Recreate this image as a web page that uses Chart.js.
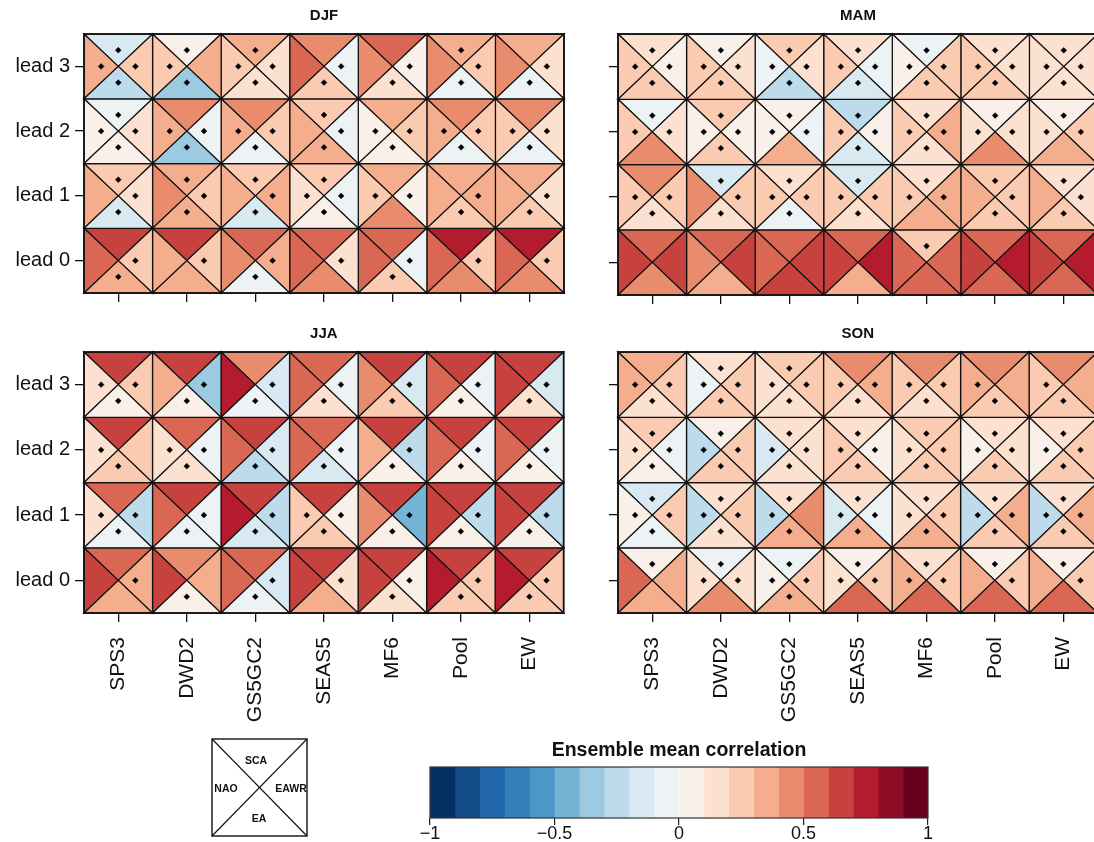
<!DOCTYPE html>
<html>
<head>
<meta charset="utf-8">
<script src="https://cdn.jsdelivr.net/npm/chart.js@4.4.1/dist/chart.umd.min.js"></script>
<style>
  html, body { margin: 0; padding: 0; background: #fff; width: 1094px; height: 842px; overflow: hidden; position: relative; }
  canvas { position: absolute; }
  #key { position: absolute; left: 0; top: 0; }
</style>
</head>
<body>
<canvas id="djf" width="570" height="310" style="left:0px;top:0px"></canvas>
<canvas id="mam" width="570" height="310" style="left:534px;top:0px"></canvas>
<canvas id="jja" width="570" height="420" style="left:0px;top:318px"></canvas>
<canvas id="son" width="570" height="420" style="left:534px;top:318px"></canvas>
<canvas id="cbar" width="598" height="112" style="left:380px;top:730px"></canvas>
<svg id="key" width="1094" height="842" font-family="'Liberation Sans', Arial, Helvetica, sans-serif">
  <rect x="212" y="739" width="95" height="97" fill="none" stroke="#111" stroke-width="1.4"/>
  <line x1="212" y1="739" x2="307" y2="836" stroke="#111" stroke-width="1.2"/>
  <line x1="307" y1="739" x2="212" y2="836" stroke="#111" stroke-width="1.2"/>
  <text x="256" y="764" font-size="10.5" font-weight="bold" text-anchor="middle" fill="#111">SCA</text>
  <text x="226" y="792" font-size="10.5" font-weight="bold" text-anchor="middle" fill="#111">NAO</text>
  <text x="291" y="792" font-size="10.5" font-weight="bold" text-anchor="middle" fill="#111">EAWR</text>
  <text x="259" y="822" font-size="10.5" font-weight="bold" text-anchor="middle" fill="#111">EA</text>
</svg>
<script>
// ---- axis categories and labels ----
const models = ['SPS3', 'DWD2', 'GS5GC2', 'SEAS5', 'MF6', 'Pool', 'EW'];
const leads = ['lead 0', 'lead 1', 'lead 2', 'lead 3'];
const indices = ['SCA', 'NAO', 'EAWR', 'EA'];   // top, left, right, bottom triangle
const colorTicks = [-1, -0.5, 0, 0.5, 1];
const levels = [-1, -0.9, -0.8, -0.7, -0.6, -0.5, -0.4, -0.3, -0.2, -0.1, 0,
                0.1, 0.2, 0.3, 0.4, 0.5, 0.6, 0.7, 0.8, 0.9, 1];
const rdbuAnchors = ['#053061', '#2166ac', '#4393c3', '#92c5de', '#d1e5f0', '#f7f7f7',
                     '#fddbc7', '#f4a582', '#d6604d', '#b2182b', '#67001f'];

// ---- ensemble mean correlations; rows = lead 0..3, columns = models ----
const DJF_SCA = [
  [0.65, 0.65, 0.55, 0.55, 0.55, 0.75, 0.75],
  [0.25, 0.35, 0.25, 0.25, 0.35, 0.35, 0.35],
  [-0.05, 0.45, 0.45, 0.25, 0.35, 0.45, 0.45],
  [-0.15, 0.05, 0.35, 0.45, 0.55, 0.35, 0.35]];
const DJF_NAO = [
  [0.55, 0.35, 0.45, 0.55, 0.55, 0.55, 0.55],
  [0.35, 0.45, 0.35, 0.15, 0.25, 0.35, 0.35],
  [0.05, 0.35, 0.35, 0.35, 0.05, 0.35, 0.25],
  [0.35, 0.25, 0.25, 0.55, 0.45, 0.45, 0.45]];
const DJF_EAWR = [
  [0.25, 0.25, 0.35, 0.15, -0.05, 0.25, 0.25],
  [0.15, 0.25, 0.35, -0.05, 0.05, 0.35, 0.15],
  [0.15, -0.05, 0.25, -0.05, 0.25, 0.25, 0.15],
  [0.25, 0.35, 0.15, -0.05, 0.05, 0.25, 0.15]];
const DJF_EA = [
  [0.35, 0.35, -0.05, 0.45, 0.25, 0.45, 0.45],
  [-0.15, 0.35, -0.15, 0.05, 0.45, 0.25, 0.25],
  [0.05, -0.35, -0.05, 0.35, 0.05, -0.05, -0.05],
  [-0.25, -0.35, 0.15, 0.25, 0.15, -0.05, -0.05]];

const MAM_SCA = [
  [0.55, 0.55, 0.55, 0.55, 0.25, 0.55, 0.55],
  [0.45, -0.15, 0.15, -0.15, 0.15, 0.25, 0.15],
  [-0.05, 0.25, 0.05, -0.25, 0.15, 0.05, 0.05],
  [0.15, 0.05, 0.25, 0.15, -0.05, 0.15, 0.15]];
const MAM_NAO = [
  [0.65, 0.45, 0.55, 0.65, 0.55, 0.65, 0.65],
  [0.25, 0.45, 0.25, 0.25, 0.25, 0.35, 0.35],
  [0.25, 0.05, 0.05, 0.25, 0.25, 0.15, 0.15],
  [0.25, 0.25, -0.05, 0.25, 0.05, 0.25, 0.15]];
const MAM_EAWR = [
  [0.65, 0.65, 0.65, 0.75, 0.55, 0.75, 0.75],
  [0.25, 0.25, 0.25, 0.25, 0.35, 0.25, 0.15],
  [0.15, 0.05, -0.05, 0.05, 0.35, 0.15, 0.25],
  [0.05, 0.15, 0.15, -0.05, 0.25, 0.15, 0.15]];
const MAM_EA = [
  [0.45, 0.35, 0.65, 0.35, 0.55, 0.55, 0.55],
  [0.15, 0.15, -0.05, 0.15, 0.35, 0.25, 0.25],
  [0.45, 0.25, 0.35, -0.15, 0.15, 0.45, 0.35],
  [0.25, 0.25, -0.25, -0.15, 0.25, 0.25, 0.15]];

const JJA_SCA = [
  [0.55, 0.45, 0.55, 0.65, 0.65, 0.65, 0.65],
  [0.55, 0.65, 0.65, 0.65, 0.65, 0.65, 0.65],
  [0.65, 0.55, 0.65, 0.55, 0.65, 0.65, 0.65],
  [0.65, 0.65, 0.45, 0.55, 0.65, 0.65, 0.65]];
const JJA_NAO = [
  [0.65, 0.65, 0.55, 0.65, 0.65, 0.75, 0.75],
  [0.15, 0.55, 0.75, 0.25, 0.45, 0.65, 0.65],
  [0.15, 0.15, 0.55, 0.55, 0.35, 0.55, 0.55],
  [0.15, 0.35, 0.75, 0.55, 0.45, 0.55, 0.65]];
const JJA_EAWR = [
  [0.35, 0.35, -0.15, 0.15, 0.05, 0.25, 0.25],
  [-0.25, -0.05, -0.25, 0.05, -0.45, -0.25, -0.25],
  [0.25, -0.05, -0.15, -0.05, -0.25, -0.05, -0.05],
  [0.25, -0.35, -0.15, -0.05, -0.15, -0.05, -0.15]];
const JJA_EA = [
  [0.35, 0.05, -0.05, 0.35, 0.15, 0.25, 0.25],
  [-0.05, -0.05, -0.15, 0.25, 0.05, 0.05, 0.05],
  [0.25, 0.15, -0.25, -0.15, 0.05, 0.05, 0.05],
  [0.05, 0.05, -0.05, 0.15, 0.25, 0.05, 0.15]];

const SON_SCA = [
  [0.05, -0.05, -0.05, 0.05, 0.15, 0.05, 0.05],
  [-0.15, 0.15, 0.15, 0.15, 0.15, 0.15, 0.15],
  [0.25, 0.05, 0.15, 0.15, 0.25, 0.15, 0.15],
  [0.35, 0.15, 0.25, 0.45, 0.45, 0.45, 0.45]];
const SON_NAO = [
  [0.55, 0.15, 0.05, 0.15, 0.35, 0.35, 0.35],
  [0.05, -0.25, -0.25, -0.15, 0.15, -0.25, -0.25],
  [0.15, -0.25, -0.15, 0.25, 0.15, 0.05, 0.05],
  [0.35, -0.05, 0.15, 0.25, 0.25, 0.35, 0.25]];
const SON_EAWR = [
  [0.35, 0.15, 0.25, 0.25, 0.25, 0.25, 0.25],
  [0.25, 0.25, 0.45, -0.05, 0.25, 0.35, 0.35],
  [-0.05, 0.25, 0.15, 0.05, 0.25, 0.15, 0.25],
  [0.25, 0.25, 0.25, 0.35, 0.25, 0.35, 0.35]];
const SON_EA = [
  [0.35, 0.45, 0.35, 0.55, 0.55, 0.55, 0.55],
  [-0.05, 0.15, 0.35, 0.35, 0.35, 0.25, 0.25],
  [0.05, 0.25, 0.15, 0.25, 0.25, 0.25, 0.25],
  [0.15, 0.25, 0.15, 0.15, 0.15, 0.25, 0.25]];

// ---- significance flags (1 = significant, drawn as a dot) ----
const DJF_SCA_SIG = [[0,0,0,0,0,0,0],[1,1,1,1,0,0,0],[1,0,0,1,0,0,0],[1,1,1,0,0,1,0]];
const DJF_NAO_SIG = [[0,0,0,0,0,0,0],[0,0,0,1,1,0,0],[1,1,1,0,1,1,1],[1,1,1,0,0,0,0]];
const DJF_EAWR_SIG = [[1,1,1,1,1,1,1],[1,1,1,1,1,1,1],[1,1,1,1,1,1,1],[1,0,1,1,1,1,1]];
const DJF_EA_SIG = [[1,0,1,0,1,0,0],[1,1,1,1,0,1,1],[1,1,1,1,1,1,1],[1,1,1,1,1,1,1]];

const MAM_SCA_SIG = [[0,0,0,0,1,0,0],[0,1,1,1,1,1,1],[1,1,1,1,1,1,1],[1,1,1,1,1,1,1]];
const MAM_NAO_SIG = [[0,0,0,0,0,0,0],[1,0,1,1,1,0,0],[1,1,1,1,1,1,1],[1,1,1,1,1,1,1]];
const MAM_EAWR_SIG = [[0,0,0,0,0,0,0],[1,1,1,1,1,1,1],[1,1,1,1,1,1,1],[1,1,1,1,1,1,1]];
const MAM_EA_SIG = [[0,0,0,0,0,0,0],[1,1,1,1,0,1,1],[0,1,0,1,1,0,0],[1,1,1,1,1,1,1]];

const JJA_SCA_SIG = [[0,0,0,0,0,0,0],[0,0,0,0,0,0,0],[0,0,0,0,0,0,0],[0,0,0,0,0,0,0]];
const JJA_NAO_SIG = [[0,0,0,0,0,0,0],[1,0,0,1,0,0,0],[1,1,0,0,0,0,0],[1,0,0,0,0,0,0]];
const JJA_EAWR_SIG = [[1,0,1,1,1,1,1],[1,1,1,1,1,1,1],[0,1,1,1,1,1,1],[1,1,1,1,1,1,1]];
const JJA_EA_SIG = [[0,1,1,0,1,1,1],[1,1,1,1,1,1,1],[1,1,1,1,1,1,1],[1,1,1,1,1,1,1]];

const SON_SCA_SIG = [[1,1,1,1,1,1,1],[1,1,1,1,1,1,1],[1,1,1,1,1,1,1],[0,1,1,0,0,0,0]];
const SON_NAO_SIG = [[0,1,1,1,1,0,0],[1,1,1,1,1,1,1],[1,1,1,1,1,1,1],[1,1,1,1,1,1,1]];
const SON_EAWR_SIG = [[0,1,1,1,1,1,1],[1,1,0,1,1,1,1],[1,1,1,1,1,1,1],[1,1,1,1,1,0,0]];
const SON_EA_SIG = [[0,0,1,0,0,0,0],[1,1,1,1,1,1,1],[1,1,1,1,1,1,1],[1,1,1,1,1,1,1]];

// ---- colour map: RdBu (reversed) split into 20 discrete levels ----
function hexToRgb(h) {
  return [parseInt(h.slice(1, 3), 16), parseInt(h.slice(3, 5), 16), parseInt(h.slice(5, 7), 16)];
}
const anchorRgb = rdbuAnchors.map(hexToRgb);
function sampleMap(t) {
  const pos = Math.min(Math.max(t, 0), 1) * (anchorRgb.length - 1);
  const i = Math.min(Math.floor(pos), anchorRgb.length - 2);
  const f = pos - i;
  const a = anchorRgb[i], b = anchorRgb[i + 1];
  const c = a.map((v, k) => Math.round(v + (b[k] - v) * f));
  return `rgb(${c[0]},${c[1]},${c[2]})`;
}
const nBins = levels.length - 1;
const binColors = levels.slice(0, -1).map((_, k) => sampleMap(k / (nBins - 1)));
function colorFor(v) {
  let k = 0;
  while (k < nBins - 1 && v >= levels[k + 1]) k++;
  return binColors[k];
}

// triangle shapes inside a unit cell (top, left, right, bottom) and dot anchors
const triShapes = [
  [[0, 1], [1, 1], [0.5, 0.5]],
  [[0, 0], [0, 1], [0.5, 0.5]],
  [[1, 0], [1, 1], [0.5, 0.5]],
  [[0, 0], [1, 0], [0.5, 0.5]]
];
const dotAnchors = [[0.5, 0.75], [0.25, 0.5], [0.75, 0.5], [0.5, 0.25]];

const FONT = "'Liberation Sans', Arial, Helvetica, sans-serif";
Chart.defaults.font.family = FONT;
Chart.defaults.color = '#111';

// draws the four coloured triangles of every cell through the chart's scales
const quadCells = {
  id: 'quadCells',
  beforeDatasetsDraw(chart, args, opts) {
    const { ctx, chartArea, scales: { x, y } } = chart;
    ctx.save();
    ctx.lineWidth = 1.25;
    ctx.strokeStyle = '#111';
    ctx.lineJoin = 'miter';
    opts.fields.forEach((field, k) => {
      field.forEach((row, j) => {
        row.forEach((v, i) => {
          ctx.beginPath();
          triShapes[k].forEach(([dx, dy], n) => {
            const px = x.getPixelForValue(i + dx);
            const py = y.getPixelForValue(j + dy);
            if (n === 0) ctx.moveTo(px, py); else ctx.lineTo(px, py);
          });
          ctx.closePath();
          ctx.fillStyle = colorFor(v);
          ctx.fill();
          ctx.stroke();
        });
      });
    });
    ctx.lineWidth = 1.7;
    ctx.strokeRect(chartArea.left, chartArea.top, chartArea.right - chartArea.left, chartArea.bottom - chartArea.top);
    ctx.restore();
  }
};

// season title centred over the plotting area
const panelTitle = {
  id: 'panelTitle',
  afterDraw(chart, args, opts) {
    const { ctx, chartArea } = chart;
    ctx.save();
    ctx.font = `bold 15px ${FONT}`;
    ctx.fillStyle = '#111';
    ctx.textAlign = 'center';
    ctx.textBaseline = 'middle';
    ctx.fillText(opts.text, (chartArea.left + chartArea.right) / 2, chartArea.top - 18);
    ctx.restore();
  }
};

function makePanel(id, name, fields, sigs, showY, showX, xAxisHeight) {
  const dots = [];
  sigs.forEach((sig, k) => {
    sig.forEach((row, j) => {
      row.forEach((s, i) => {
        if (s) dots.push({ x: i + dotAnchors[k][0], y: j + dotAnchors[k][1] });
      });
    });
  });
  return new Chart(document.getElementById(id), {
    type: 'scatter',
    data: {
      datasets: [{
        data: dots,
        pointStyle: 'rectRot',
        pointRadius: 2.9,
        pointHoverRadius: 2.9,
        pointBackgroundColor: '#000',
        pointBorderColor: '#000',
        pointBorderWidth: 0.5
      }]
    },
    options: {
      responsive: false,
      animation: false,
      events: [],
      layout: { padding: { top: 34, right: 6, left: 0, bottom: 0 } },
      plugins: {
        legend: { display: false },
        tooltip: { enabled: false },
        quadCells: { fields },
        panelTitle: { text: name }
      },
      scales: {
        x: {
          type: 'linear', min: 0, max: models.length, position: 'bottom',
          afterBuildTicks: s => { s.ticks = models.map((m, i) => ({ value: i + 0.5 })); },
          afterFit: s => { s.height = xAxisHeight; },
          ticks: {
            display: showX, autoSkip: false, minRotation: 90, maxRotation: 90,
            padding: 15, font: { size: 21 }, color: '#111',
            callback: (v, i) => models[i]
          },
          grid: { drawOnChartArea: false, drawTicks: true, tickLength: 9, color: '#111', lineWidth: 1.3 },
          border: { display: false }
        },
        y: {
          type: 'linear', min: 0, max: leads.length, position: 'left',
          afterBuildTicks: s => { s.ticks = leads.map((l, j) => ({ value: j + 0.5 })); },
          afterFit: s => { s.width = 84; },
          ticks: {
            display: showY, padding: 5, font: { size: 20 }, color: '#111',
            callback: (v, j) => leads[j]
          },
          grid: { drawOnChartArea: false, drawTicks: true, tickLength: 9, color: '#111', lineWidth: 1.3 },
          border: { display: false }
        }
      }
    },
    plugins: [quadCells, panelTitle]
  });
}

makePanel('djf', 'DJF', [DJF_SCA, DJF_NAO, DJF_EAWR, DJF_EA],
  [DJF_SCA_SIG, DJF_NAO_SIG, DJF_EAWR_SIG, DJF_EA_SIG], true, false, 15);
makePanel('mam', 'MAM', [MAM_SCA, MAM_NAO, MAM_EAWR, MAM_EA],
  [MAM_SCA_SIG, MAM_NAO_SIG, MAM_EAWR_SIG, MAM_EA_SIG], false, false, 15);
makePanel('jja', 'JJA', [JJA_SCA, JJA_NAO, JJA_EAWR, JJA_EA],
  [JJA_SCA_SIG, JJA_NAO_SIG, JJA_EAWR_SIG, JJA_EA_SIG], true, true, 125);
makePanel('son', 'SON', [SON_SCA, SON_NAO, SON_EAWR, SON_EA],
  [SON_SCA_SIG, SON_NAO_SIG, SON_EAWR_SIG, SON_EA_SIG], false, true, 125);

// ---- colour bar: one floating bar per level ----
const cbarOutline = {
  id: 'cbarOutline',
  afterDatasetsDraw(chart) {
    const { ctx, chartArea } = chart;
    ctx.save();
    ctx.lineWidth = 1.2;
    ctx.strokeStyle = '#333';
    ctx.strokeRect(chartArea.left, chartArea.top, chartArea.right - chartArea.left, chartArea.bottom - chartArea.top);
    ctx.restore();
  }
};
new Chart(document.getElementById('cbar'), {
  type: 'bar',
  data: {
    labels: ['r'],
    datasets: binColors.map((c, k) => ({
      data: [[levels[k], levels[k + 1]]],
      backgroundColor: c,
      borderWidth: 0,
      grouped: false,
      barPercentage: 1,
      categoryPercentage: 1
    }))
  },
  options: {
    indexAxis: 'y',
    responsive: false,
    animation: false,
    events: [],
    layout: { padding: { left: 50, right: 50, top: 0, bottom: 0 } },
    plugins: {
      legend: { display: false },
      tooltip: { enabled: false },
      title: {
        display: true, text: 'Ensemble mean correlation', color: '#111',
        font: { size: 19.5, weight: 'bold', lineHeight: 1.2 }, padding: { top: 9, bottom: 4.6 }
      }
    },
    scales: {
      y: { display: false },
      x: {
        type: 'linear', min: levels[0], max: levels[levels.length - 1],
        afterBuildTicks: s => { s.ticks = colorTicks.map(v => ({ value: v })); },
        afterFit: s => { s.height = 24; },
        ticks: {
          padding: 0, font: { size: 18, lineHeight: 1 }, color: '#111', autoSkip: false, maxRotation: 0,
          callback: v => (v < 0 ? '\u2212' + String(Math.abs(v)) : String(v))
        },
        grid: { drawOnChartArea: false, drawTicks: true, tickLength: 7, color: '#222', lineWidth: 1.2 },
        border: { display: false }
      }
    }
  },
  plugins: [cbarOutline]
});
</script>
</body>
</html>
